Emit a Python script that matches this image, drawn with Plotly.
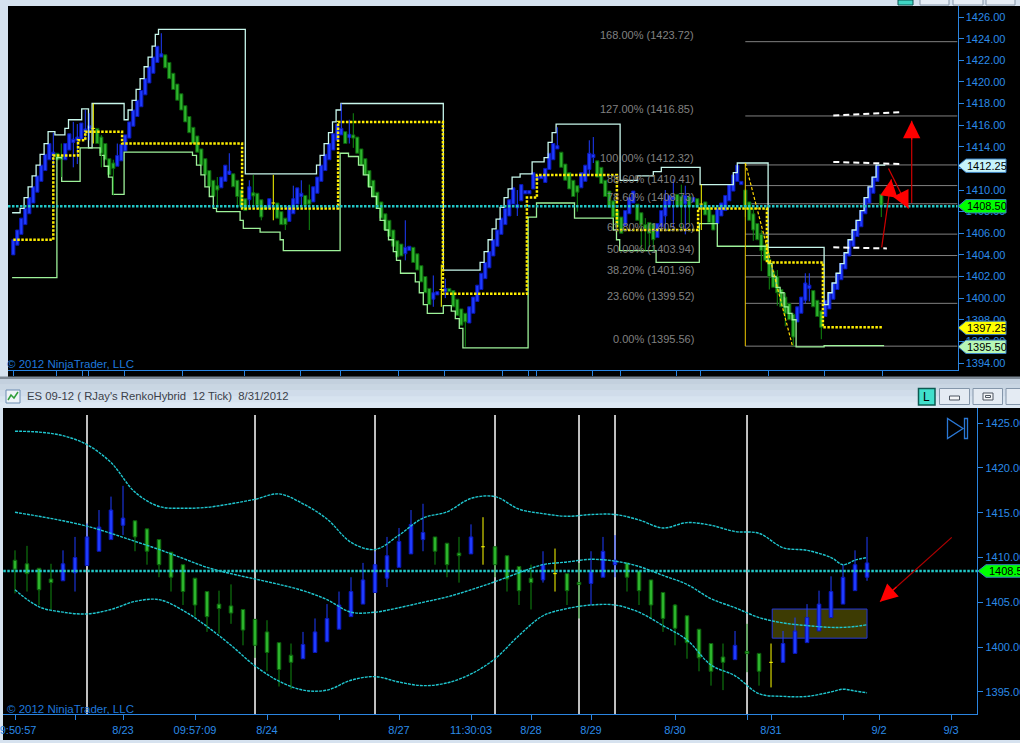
import plotly.graph_objects as go

W, H = 1020, 743

# ---------------- top panel: renko-hybrid bricks (bar index = position) ----------------
renko_open = [
    1404.0, 1404.9, 1405.9, 1406.8, 1407.8, 1408.8, 1409.8, 1410.8, 1411.8, 1412.8,
    1413.2, 1413.4, 1413.1, 1412.8, 1413.7, 1414.4, 1414.6, 1414.7, 1415.4, 1415.7,
    1415.7, 1415.7, 1414.9, 1414.3, 1412.9, 1412.5, 1412.2, 1412.7, 1413.6, 1414.8,
    1415.9, 1416.8, 1417.7, 1418.8, 1419.9, 1420.8, 1421.8, 1422.3, 1422.5, 1421.8,
    1420.8, 1419.8, 1418.9, 1417.8, 1416.8, 1415.8, 1415.0, 1413.8, 1412.9, 1411.8,
    1410.9, 1410.4, 1410.2, 1410.8, 1411.5, 1411.5, 1410.9, 1410.0, 1409.2, 1409.1,
    1409.7, 1409.7, 1409.1, 1408.5, 1408.3, 1408.8, 1408.8, 1408.0, 1407.4, 1407.1,
    1407.8, 1408.7, 1409.4, 1409.5, 1409.1, 1408.9, 1409.7, 1410.8, 1411.8, 1412.8,
    1413.7, 1414.6, 1415.1, 1415.4, 1414.9, 1415.1, 1414.9, 1413.8, 1412.9, 1411.8,
    1410.9, 1409.8, 1408.9, 1407.8, 1407.2, 1406.3, 1405.3, 1405.0, 1404.1, 1404.4,
    1404.7, 1404.1, 1403.0, 1402.0, 1400.9, 1399.9, 1400.3, 1400.8, 1400.6, 1400.9,
    1400.7, 1399.9, 1399.0, 1398.6, 1397.7, 1398.6, 1399.7, 1400.8, 1401.8, 1402.8,
    1403.9, 1404.8, 1405.9, 1406.8, 1407.6, 1408.7, 1408.4, 1409.0, 1409.7, 1409.7,
    1410.1, 1411.0, 1411.1, 1410.7, 1411.9, 1412.8, 1413.8, 1413.5, 1412.4, 1411.6,
    1410.9, 1410.4, 1410.2, 1410.8, 1411.9, 1413.0, 1412.7, 1412.1, 1410.9, 1409.9,
    1409.0, 1408.1, 1407.5, 1406.7, 1407.8, 1408.8, 1408.7, 1407.9, 1406.8, 1407.0,
    1406.9, 1405.6, 1406.6, 1407.6, 1408.6, 1409.1, 1409.6, 1409.4, 1408.7, 1409.4,
    1408.9, 1409.2, 1408.7, 1408.9, 1408.4, 1407.7, 1406.9, 1407.6, 1408.1, 1409.0,
    1409.9, 1410.8, 1410.5, 1410.0, 1408.9, 1407.8, 1406.9, 1405.9, 1404.9, 1403.6,
    1402.5, 1402.0, 1400.8, 1400.1, 1399.5, 1398.5, 1397.8, 1398.6, 1399.8, 1400.9,
    1400.7, 1399.8, 1398.8, 1398.3, 1399.0, 1399.9, 1400.8, 1401.7, 1402.7, 1403.9,
    1404.8, 1405.7, 1406.6, 1407.8, 1408.8, 1409.7, 1410.8, 1409.6,
]
renko_close = [
    1405.4, 1406.3, 1407.4, 1408.3, 1409.3, 1410.3, 1411.3, 1412.3, 1413.3, 1414.3,
    1413.5, 1412.8, 1412.9, 1414.3, 1415.2, 1414.7, 1414.9, 1416.2, 1415.6, 1415.9,
    1415.7, 1414.3, 1413.4, 1412.8, 1411.4, 1412.0, 1413.2, 1414.2, 1415.1, 1416.3,
    1417.4, 1418.3, 1419.2, 1420.3, 1421.4, 1422.3, 1423.3, 1422.6, 1421.3, 1420.3,
    1419.3, 1418.3, 1417.4, 1416.3, 1415.3, 1414.3, 1413.5, 1412.3, 1411.4, 1410.3,
    1409.4, 1410.0, 1411.2, 1412.3, 1411.7, 1410.3, 1409.4, 1408.5, 1408.1, 1410.3,
    1409.5, 1408.6, 1407.5, 1408.2, 1409.2, 1408.8, 1407.4, 1406.8, 1406.8, 1408.5,
    1409.2, 1410.2, 1409.7, 1408.6, 1408.7, 1410.3, 1411.2, 1412.3, 1413.3, 1414.3,
    1415.2, 1416.1, 1415.7, 1414.3, 1415.1, 1414.8, 1413.4, 1412.3, 1411.4, 1410.3,
    1409.4, 1408.3, 1407.4, 1406.3, 1405.7, 1404.8, 1403.8, 1403.9, 1404.7, 1404.8,
    1403.3, 1402.6, 1401.5, 1400.5, 1399.4, 1400.5, 1400.6, 1400.8, 1400.9, 1400.6,
    1399.2, 1398.4, 1397.5, 1397.8, 1399.2, 1400.1, 1401.2, 1402.3, 1403.3, 1404.3,
    1405.4, 1406.3, 1407.4, 1408.3, 1409.1, 1410.2, 1408.6, 1410.5, 1409.9, 1409.9,
    1411.6, 1411.2, 1411.3, 1412.0, 1413.4, 1414.3, 1414.1, 1412.1, 1410.9, 1410.1,
    1409.4, 1409.8, 1411.6, 1412.3, 1413.4, 1413.3, 1411.2, 1410.6, 1409.4, 1408.4,
    1407.5, 1406.6, 1406.0, 1408.1, 1409.3, 1409.9, 1407.2, 1406.8, 1406.4, 1406.0,
    1405.4, 1406.9, 1408.1, 1409.1, 1409.5, 1409.4, 1408.5, 1408.5, 1409.5, 1408.5,
    1409.3, 1408.4, 1408.7, 1407.7, 1407.0, 1406.3, 1408.3, 1408.8, 1409.5, 1410.5,
    1411.4, 1412.3, 1410.8, 1408.4, 1407.2, 1406.3, 1405.4, 1404.4, 1403.5, 1402.0,
    1401.0, 1400.5, 1399.2, 1398.6, 1398.0, 1396.4, 1399.2, 1400.1, 1401.4, 1401.2,
    1399.2, 1398.3, 1397.3, 1399.8, 1400.5, 1401.4, 1402.3, 1403.2, 1404.2, 1405.4,
    1406.3, 1407.2, 1408.1, 1409.3, 1410.3, 1411.2, 1412.3, 1408.6,
]
wick_i = [10, 12, 15, 16, 18, 19, 20, 22, 25, 26, 37, 51, 54, 56, 59, 60, 62, 65, 68, 70,
          72, 74, 82, 84, 85, 98, 105, 107, 108, 113, 126, 136, 141, 144, 145, 157, 158, 159,
          160, 163, 165, 167, 168, 169, 172, 183, 185, 187, 189, 191, 193, 195, 198, 199, 202, 217]
wick_lo = [1412.1, 1411.2, 1412.1, 1412.4, 1414.6, 1414.6, 1414.3, 1412.1, 1409.5, 1412.2, 1422.3,
           1408.3, 1411.4, 1408.3, 1408.3, 1408.6, 1407.2, 1407.2, 1406.3, 1407.8, 1408.4, 1406.3,
           1415.1, 1414.3, 1413.9, 1403.5, 1399.2, 1399.2, 1400.0, 1395.5, 1407.6, 1413.8, 1408.0,
           1411.4, 1412.5, 1404.4, 1404.4, 1404.7, 1404.4, 1406.3, 1406.3, 1406.3, 1405.9, 1406.9,
           1406.3, 1407.5, 1405.3, 1402.5, 1400.8, 1399.3, 1397.4, 1395.5, 1399.5, 1399.7, 1396.2,
           1407.5]
wick_hi = [1415.3, 1414.3, 1416.3, 1416.1, 1417.4, 1417.1, 1418.0, 1415.1, 1412.8, 1414.3, 1424.5,
           1411.2, 1413.4, 1410.9, 1410.9, 1411.4, 1409.1, 1411.4, 1407.4, 1410.4, 1410.9, 1410.5,
           1418.0, 1416.5, 1417.1, 1407.2, 1402.1, 1403.1, 1401.8, 1398.6, 1410.0, 1415.8, 1410.4,
           1414.6, 1414.9, 1407.9, 1407.4, 1407.0, 1406.9, 1410.0, 1411.0, 1410.5, 1410.4, 1409.4,
           1410.5, 1410.0, 1408.3, 1406.3, 1404.2, 1402.6, 1400.5, 1398.6, 1402.3, 1402.3, 1398.9,
           1409.5]

# box envelope lines (step vertices: bar position, level held until the next vertex)
env_hi_x = [-0.3, 1.7, 2.7, 3.7, 4.7, 5.7, 6.7, 7.7, 8.7, 10.4, 12.9, 13.8, 17.1, 18.8, 19.7,
            27.7, 28.7, 29.7, 30.7, 31.7, 32.7, 33.7, 34.7, 35.5, 36.3, 58.0, 75.8, 76.7, 77.7,
            78.8, 79.8, 80.7, 81.9, 107.5, 116.7, 117.7, 118.7, 119.7, 120.7, 121.7, 122.7, 123.7,
            124.7, 126.7, 129.7, 132.7, 133.7, 134.7, 135.7, 151.7, 156.0, 160.0, 162.0, 171.7,
            180.0, 181.0, 188.7, 202.7, 203.7, 204.7, 205.7, 206.7, 207.7, 208.7, 209.7, 210.7,
            211.7, 212.7, 213.7, 214.7, 215.7, 218.0]
env_hi_p = [1407.9, 1408.3, 1409.3, 1410.3, 1411.3, 1412.3, 1413.3, 1414.3, 1415.4, 1415.1,
            1415.7, 1416.5, 1417.5, 1413.9, 1418.0, 1416.5, 1417.4, 1418.3, 1419.3, 1420.3,
            1421.4, 1422.3, 1423.3, 1424.4, 1424.85, 1411.5, 1412.3, 1413.2, 1414.3, 1415.3,
            1416.3, 1417.4, 1418.0, 1402.6, 1403.3, 1404.3, 1405.4, 1406.4, 1407.3, 1408.4,
            1409.3, 1410.1, 1411.2, 1411.5, 1412.6, 1413.0, 1414.4, 1415.3, 1416.1, 1410.9,
            1411.3, 1411.7, 1412.1, 1410.5, 1411.6, 1412.5, 1404.7, 1399.4, 1400.5, 1401.4,
            1402.3, 1403.2, 1404.2, 1405.4, 1406.3, 1407.2, 1408.1, 1409.3, 1410.3, 1411.2,
            1412.3, 1412.3]
env_lo_x = [-0.3, 10.9, 12.1, 16.7, 21.7, 22.7, 23.8, 24.8, 27.7, 44.8, 45.8, 46.9, 47.9, 49.0,
            50.0, 50.8, 56.7, 57.5, 61.7, 66.7, 67.5, 81.7, 83.8, 86.3, 87.5, 88.8, 89.6, 90.8,
            91.7, 92.9, 93.8, 95.0, 95.8, 96.8, 100.5, 101.5, 102.5, 103.5, 107.5, 109.5, 110.5,
            111.5, 112.4, 128.7, 130.8, 140.3, 150.0, 150.8, 151.6, 160.7, 171.5, 176.0, 188.7,
            189.7, 190.7, 191.7, 192.7, 193.7, 194.7, 195.7, 202.7, 217.7]
env_lo_p = [1401.9, 1413.0, 1410.8, 1413.9, 1413.2, 1412.2, 1411.2, 1409.6, 1413.5, 1413.2,
            1412.3, 1411.4, 1410.3, 1409.4, 1408.3, 1408.0, 1407.2, 1406.45, 1406.1, 1405.4,
            1404.4, 1413.4, 1413.1, 1412.3, 1411.4, 1410.3, 1409.4, 1408.3, 1407.2, 1406.3,
            1405.4, 1404.3, 1403.5, 1402.3, 1401.5, 1400.5, 1399.4, 1398.6, 1399.3, 1398.8,
            1398.1, 1397.2, 1395.4, 1407.5, 1408.8, 1407.4, 1406.3, 1405.4, 1404.4, 1403.3,
            1406.9, 1404.8, 1403.2, 1402.0, 1401.0, 1400.5, 1399.2, 1398.6, 1398.0, 1395.5,
            1395.6, 1395.6]

# yellow dotted trend steps
trend_x = [0, 10.0, 16.2, 18.0, 27.2, 57.2, 81.2, 107.4, 128.4, 130.9, 150.9, 171.2, 188.4, 202.4, 217.2]
trend_p = [1405.4, 1413.2, 1414.6, 1415.4, 1414.3, 1408.3, 1416.3, 1400.4, 1409.3, 1411.4, 1406.3,
           1408.3, 1403.3, 1397.3, 1397.3]

fib_pct = [168.0, 127.0, 100.0, 88.6, 78.6, 61.8, 50.0, 38.2, 23.6, 0.0]
fib_lvl = [1423.72, 1416.85, 1412.32, 1410.41, 1408.73, 1405.92, 1403.94, 1401.96, 1399.52, 1395.56]
fib_anchor = (183, 1412.5, 194.8, 1395.56)   # swing high bar/price -> swing low bar/price

last_price = 1408.50
top_tags = [1412.25, 1408.50, 1397.25, 1395.50]
top_tag_fill = ["#c6f4fb", "#00ff00", "#ffff00", "#b6f7b6"]

tgt_x0 = [205.0, 205.0, 205.0]
tgt_x1 = [222.4, 222.4, 218.4]
tgt_p0 = [1416.9, 1412.6, 1404.7]
tgt_p1 = [1417.2, 1412.4, 1404.6]

# red arrows: tail bar, tail price, tip bar, tip price
top_arrows = [(224.6, 1408.8, 224.6, 1416.4), (217.1, 1404.7, 219.5, 1411.0), (218.8, 1412.0, 223.8, 1408.3)]
top_xticks = [0, 10.9, 17.2, 18.9, 27.9, 42.2, 57.9, 71.9, 81.9, 96.2, 107.9, 122.2, 128.9, 130.9,
              144.9, 151.9, 165.9, 171.9, 188.9, 202.9, 217.2]

# ---------------- bottom panel: ES 09-12 candles ----------------
bar_open = [1409.7, 1409.3, 1408.8, 1407.6, 1407.4, 1408.3, 1409.1, 1410.7, 1412.0, 1413.6,
            1414.1, 1413.2, 1412.0, 1410.6, 1409.2, 1407.7, 1406.2, 1404.8, 1404.6, 1404.2,
            1403.1, 1401.7, 1400.5, 1399.1, 1398.7, 1399.4, 1400.6, 1402.0, 1403.4, 1404.8,
            1406.1, 1407.7, 1408.9, 1410.4, 1412.0, 1412.3, 1411.6, 1410.5, 1410.4, 1411.2,
            1411.2, 1410.2, 1409.0, 1407.7, 1407.5, 1408.2, 1408.2, 1407.2, 1407.1, 1407.8,
            1409.2, 1409.4, 1408.5, 1407.5, 1406.1, 1404.7, 1403.5, 1402.0, 1400.4, 1398.9,
            1398.6, 1399.5, 1399.3, 1398.3, 1398.3, 1399.3, 1400.5, 1401.8, 1403.3, 1404.8,
            1406.3, 1407.8]
bar_high = [1410.8, 1411.3, 1408.8, 1409.3, 1410.8, 1412.3, 1413.8, 1415.3, 1416.8, 1418.0,
            1414.1, 1413.2, 1412.0, 1410.6, 1409.2, 1407.7, 1406.2, 1406.3, 1407.0, 1404.2,
            1403.1, 1403.0, 1400.5, 1400.4, 1401.7, 1403.2, 1404.8, 1406.2, 1407.8, 1409.4,
            1410.7, 1412.3, 1413.3, 1415.3, 1416.0, 1412.3, 1411.6, 1412.3, 1413.7, 1414.5,
            1411.2, 1410.2, 1409.0, 1409.2, 1410.7, 1411.0, 1408.2, 1409.4, 1410.7, 1412.3,
            1412.5, 1409.4, 1408.5, 1407.5, 1406.1, 1404.8, 1403.5, 1402.0, 1400.4, 1400.4,
            1401.8, 1402.6, 1399.3, 1400.4, 1401.8, 1403.3, 1404.8, 1406.3, 1407.9, 1409.2,
            1410.8, 1412.3]
bar_low = [1406.0, 1406.2, 1404.7, 1404.2, 1407.4, 1406.2, 1409.1, 1410.7, 1412.0, 1412.5,
           1410.7, 1409.2, 1407.8, 1406.2, 1404.7, 1403.4, 1401.7, 1401.5, 1402.6, 1400.2,
           1398.8, 1397.3, 1395.6, 1395.3, 1398.7, 1399.4, 1400.6, 1402.0, 1403.4, 1404.8,
           1406.1, 1406.7, 1408.9, 1410.4, 1410.7, 1409.2, 1407.8, 1407.2, 1410.4, 1409.2,
           1407.8, 1406.2, 1404.7, 1404.2, 1407.2, 1406.2, 1404.7, 1403.2, 1404.7, 1407.8,
           1407.8, 1406.2, 1404.7, 1403.2, 1401.7, 1400.2, 1398.7, 1397.3, 1395.7, 1395.2,
           1398.6, 1397.2, 1395.7, 1395.5, 1398.3, 1399.3, 1400.5, 1401.8, 1403.3, 1404.8,
           1406.3, 1407.4]
bar_close = [1408.7, 1408.2, 1406.4, 1407.2, 1409.3, 1410.0, 1412.3, 1413.4, 1415.3, 1414.4,
             1412.3, 1410.7, 1409.2, 1407.8, 1406.2, 1404.7, 1403.4, 1404.3, 1403.8, 1401.9,
             1400.2, 1399.4, 1397.5, 1398.3, 1400.3, 1401.7, 1403.2, 1404.7, 1406.2, 1407.5,
             1409.2, 1410.2, 1411.8, 1413.7, 1412.8, 1410.7, 1409.2, 1410.2, 1412.3, 1411.2,
             1409.2, 1407.6, 1406.3, 1407.2, 1409.2, 1408.2, 1406.3, 1407.0, 1408.5, 1410.7,
             1409.7, 1407.8, 1406.3, 1404.7, 1403.2, 1402.1, 1400.5, 1398.8, 1397.3, 1398.3,
             1400.2, 1399.3, 1397.3, 1398.3, 1400.4, 1401.8, 1403.3, 1404.8, 1406.2, 1407.8,
             1409.2, 1409.4]

band_j = [0, 2, 4, 6, 8, 10, 12, 14, 16, 18, 20, 22, 24, 26, 28, 30, 32, 34, 36, 38,
          40, 42, 44, 46, 48, 50, 52, 54, 56, 58, 60, 62, 64, 66, 68, 69, 70, 71]
band_up = [1424.1, 1424.0, 1423.6, 1422.6, 1420.6, 1417.3, 1415.7, 1415.5, 1415.6, 1416.0,
           1416.5, 1417.1, 1416.0, 1414.3, 1411.7, 1410.9, 1412.5, 1414.4, 1415.1, 1416.6,
           1416.8, 1415.4, 1414.9, 1414.6, 1414.8, 1414.8, 1414.2, 1413.3, 1413.9, 1413.6,
           1412.9, 1412.7, 1411.1, 1410.8, 1410.0, 1409.2, 1409.7, 1410.0]
band_mid = [1415.05, 1414.6, 1414.1, 1413.5, 1412.7, 1411.8, 1410.9, 1409.9, 1408.9, 1408.2,
            1407.6, 1407.0, 1406.3, 1405.3, 1403.9, 1403.9, 1404.4, 1405.0, 1405.6, 1406.4,
            1407.3, 1408.3, 1409.2, 1409.5, 1409.8, 1409.6, 1409.0, 1408.0, 1407.0, 1405.4,
            1404.4, 1403.3, 1402.7, 1402.4, 1402.2, 1402.2, 1402.3, 1402.5]
band_lo = [1406.4, 1404.5, 1403.9, 1403.7, 1404.2, 1405.1, 1405.3, 1404.1, 1402.3, 1400.2,
           1397.9, 1396.2, 1395.2, 1395.2, 1396.3, 1396.7, 1396.1, 1395.7, 1396.0, 1397.0,
           1398.7, 1401.3, 1403.5, 1404.3, 1404.7, 1404.7, 1403.9, 1402.4, 1400.8, 1398.0,
           1396.8, 1394.8, 1394.5, 1394.5, 1395.0, 1395.3, 1395.1, 1394.9]

session_j = [6, 20, 30, 40, 47, 50, 61]
zone = (63.1, 1401.0, 71.0, 1404.25)
bot_arrow = (78.06, 1412.25, 72.08, 1405.07)
bot_xticks = [0, 5, 9, 15, 21, 27, 32, 38, 43, 48, 55, 61, 63, 69, 72, 78]
bot_xtext = ["09:50:57", "", "8/23", "09:57:09", "8/24", "", "8/27", "11:30:03", "8/28",
             "8/29", "8/30", "", "8/31", "", "9/2", "9/3"]

# ---------------- styling ----------------
AX = "#2a84e0"
TXT = "#2b8be8"
FONT = "Liberation Sans, Arial, sans-serif"
UP_FILL, UP_EDGE = "#1f3cff", "#0a16b8"
DN_FILL, DN_EDGE = "#2db52d", "#0b600b"
DOJI = "#ffff00"
CYAN_DOT = "#22c8c8"


def px(x):
    return x / W


def py(y):
    return 1 - y / H


def bodies(xs, opens, closes, width, min_h, xa, ya):
    out = []
    for is_up, fill, edge in ((True, UP_FILL, UP_EDGE), (False, DN_FILL, DN_EDGE)):
        bx, bb, bh = [], [], []
        for x, o, c in zip(xs, opens, closes):
            if o == c or (c > o) != is_up:
                continue
            lo, hi = min(o, c), max(o, c)
            if hi - lo < min_h:
                mid = (lo + hi) / 2
                lo, hi = mid - min_h / 2, mid + min_h / 2
            bx.append(x)
            bb.append(lo)
            bh.append(hi - lo)
        out.append(go.Bar(x=bx, y=bh, base=bb, width=width, xaxis=xa, yaxis=ya,
                          marker=dict(color=fill, line=dict(color=edge, width=1)),
                          hoverinfo="skip"))
    return out


def wicks(xs, lows, highs, opens, closes, tick, xa, ya):
    segs = {"up": ([], []), "dn": ([], []), "doji": ([], [])}
    for x, l, h, o, c in zip(xs, lows, highs, opens, closes):
        if o == c:
            sx, sy = segs["doji"]
            sx += [x, x, None, x - tick, x + tick, None]
            sy += [l, h, None, o, o, None]
            continue
        sx, sy = segs["up" if c > o else "dn"]
        b0, b1 = min(o, c), max(o, c)
        if l < b0:
            sx += [x, x, None]
            sy += [l, b0, None]
        if h > b1:
            sx += [x, x, None]
            sy += [b1, h, None]
    colors = {"up": UP_FILL, "dn": "#118a11", "doji": DOJI}
    return [go.Scatter(x=segs[k][0], y=segs[k][1], mode="lines", xaxis=xa, yaxis=ya,
                       line=dict(color=colors[k], width=1), hoverinfo="skip")
            for k in segs]


fig = go.Figure()

# --- top panel traces
fig.add_trace(go.Scatter(x=env_hi_x, y=env_hi_p, mode="lines", line=dict(color="#c8f7ec", width=1.3, shape="hv"),
                         xaxis="x", yaxis="y", hoverinfo="skip"))
fig.add_trace(go.Scatter(x=env_lo_x, y=env_lo_p, mode="lines", line=dict(color="#9ef29a", width=1.3, shape="hv"),
                         xaxis="x", yaxis="y", hoverinfo="skip"))
n_top = len(renko_close)
top_x = list(range(n_top))
for t in bodies(top_x, renko_open, renko_close, 0.8, 0.3, "x", "y"):
    fig.add_trace(t)
for t in wicks(wick_i, wick_lo, wick_hi, [renko_open[i] for i in wick_i], [renko_close[i] for i in wick_i],
               0.45, "x", "y"):
    fig.add_trace(t)
fa_x0, fa_p0, fa_x1, fa_p1 = fib_anchor
fig.add_trace(go.Scatter(x=[fa_x0, fa_x0], y=[fa_p0, fib_lvl[-1]], mode="lines",
                         line=dict(color="#f0c800", width=1), xaxis="x", yaxis="y", hoverinfo="skip"))
fig.add_trace(go.Scatter(x=[fa_x0, fa_x1], y=[fa_p0, fa_p1], mode="lines",
                         line=dict(color="#ffd800", width=1.2, dash="3px,2px"), xaxis="x", yaxis="y", hoverinfo="skip"))
fig.add_trace(go.Scatter(x=trend_x, y=trend_p, mode="lines",
                         line=dict(color="#ffee00", width=2.5, shape="hv", dash="2.5px,1.5px"),
                         xaxis="x", yaxis="y", hoverinfo="skip"))
for x0, x1, p0, p1 in zip(tgt_x0, tgt_x1, tgt_p0, tgt_p1):
    fig.add_trace(go.Scatter(x=[x0, x1], y=[p0, p1], mode="lines",
                             line=dict(color="#ffffff", width=2, dash="6px,4px"),
                             xaxis="x", yaxis="y", hoverinfo="skip"))

# --- bottom panel traces
n_bot = len(bar_close)
bot_x = list(range(n_bot))
for t in bodies(bot_x, bar_open, bar_close, 0.3, 0.25, "x2", "y2"):
    fig.add_trace(t)
for t in wicks(bot_x, bar_low, bar_high, bar_open, bar_close, 0.15, "x2", "y2"):
    fig.add_trace(t)
for band in (band_up, band_mid, band_lo):
    fig.add_trace(go.Scatter(x=band_j, y=band, mode="lines",
                             line=dict(color="#1fc6cf", width=1.4, shape="spline", dash="3px,1px"),
                             xaxis="x2", yaxis="y2", hoverinfo="skip"))

# ---------------- shapes ----------------
shapes = []


def rect(x0, y0, x1, y1, fill, edge=None, lw=0, layer="below"):
    shapes.append(dict(type="rect", xref="paper", yref="paper", x0=px(x0), x1=px(x1),
                       y0=py(y1), y1=py(y0), fillcolor=fill,
                       line=dict(color=edge or fill, width=lw), layer=layer))


# window chrome
rect(8, 6, 1020, 377, "#000000")
rect(3, 408, 1020, 740, "#000000")
rect(0, 376.5, 1020, 379, "#7d8894")
for k, col in enumerate(["#c3d0de", "#c9d6e3", "#d0dcea", "#d7e3ef", "#dde8f3"]):
    rect(0, 379 + k * 5.8, 1020, 379 + (k + 1) * 5.8, col)
rect(898, 0, 913, 5, "#3fd6c4", "#0d5450", 1, "above")
for bx0, bx1 in ((920, 949), (953, 983), (986, 1015)):
    rect(bx0, -2, bx1, 5, "#e6edf5", "#8797aa", 1, "above")
rect(6, 390, 20, 403, "#eef3f8", "#6d8db3", 1, "above")
shapes.append(dict(type="path", xref="paper", yref="paper", layer="above",
                   path="M %f,%f L %f,%f L %f,%f L %f,%f" % (px(8), py(400), px(11), py(395), px(14), py(398), px(18), py(392)),
                   line=dict(color="#2e9e3a", width=1.5)))
rect(918.5, 388.5, 935, 405, "#40e0cc", "#0d5a52", 1.5, "above")
for bx0, bx1 in ((939.5, 969.5), (973, 1002.5), (1006, 1036)):
    rect(bx0, 388.5, bx1, 404.5, "#e4ebf3", "#8496aa", 1, "above")
rect(949.5, 396, 959.5, 400, "#f4f6f8", "#4c5560", 1, "above")
rect(983, 393, 993, 400, "#f4f6f8", "#4c5560", 1, "above")
rect(985.5, 395.5, 990.5, 397.5, "#f4f6f8", "#4c5560", 1, "above")

# fib levels
for lvl in fib_lvl:
    shapes.append(dict(type="line", xref="x", yref="y", x0=fa_x0, x1=236.05, y0=lvl, y1=lvl,
                       line=dict(color="#808080", width=1), layer="below"))

# last price lines
for xr, yr in (("x domain", "y"), ("x2 domain", "y2")):
    shapes.append(dict(type="line", xref=xr, yref=yr, x0=0, x1=1, y0=last_price, y1=last_price,
                       line=dict(color=CYAN_DOT, width=2.5, dash="2.5px,1.5px"), layer="above"))

# session breaks
for j in session_j:
    shapes.append(dict(type="line", xref="x2", yref="y2 domain", x0=j, x1=j, y0=0, y1=0.977,
                       line=dict(color="#ffffff", width=1.5), layer="below"))

# highlighted zone
zx0, zp0, zx1, zp1 = zone
shapes.append(dict(type="rect", xref="x2", yref="y2", x0=zx0, x1=zx1, y0=zp0, y1=zp1,
                   fillcolor="#3d3b03", line=dict(color="#2335d8", width=1), layer="below"))

# red arrow shafts (dark red)
for tx, tp, hx, hp in top_arrows:
    shapes.append(dict(type="line", xref="x", yref="y", x0=tx, y0=tp, x1=hx, y1=hp,
                       line=dict(color="#d00000", width=1.2), layer="above"))
btx, btp, bhx, bhp = bot_arrow
shapes.append(dict(type="line", xref="x2", yref="y2", x0=btx, y0=btp, x1=bhx, y1=bhp,
                   line=dict(color="#b00000", width=1.2), layer="above"))

# price tags on axes


def tag(price, fill, yref, x_tip, x_sh, x_r, half):
    shapes.append(dict(type="path", xref="paper", yref=yref, layer="above",
                       path="M %f,%f L %f,%f L %f,%f L %f,%f L %f,%f Z" % (
                           px(x_tip), price, px(x_sh), price + half, px(x_r), price + half,
                           px(x_r), price - half, px(x_sh), price - half),
                       fillcolor=fill, line=dict(color="#3a7fc0", width=1)))


for p, f in zip(top_tags, top_tag_fill):
    tag(p, f, "y", 958, 966, 1006, 0.62)
tag(last_price, "#00ff00", "y2", 978, 986, 1032, 0.7)

# end-of-chart marker
shapes.append(dict(type="path", xref="paper", yref="paper", layer="above",
                   path="M %f,%f L %f,%f L %f,%f Z" % (px(947.5), py(418.5), px(947.5), py(438.5), px(963), py(428.5)),
                   line=dict(color="#2a78d6", width=1.3)))
rect(964.5, 418.5, 967.5, 438.5, "rgba(0,0,0,0)", "#2a78d6", 1.3, "above")

# ---------------- annotations ----------------
ann = []
for pct, lvl in zip(fib_pct, fib_lvl):
    ann.append(dict(xref="paper", yref="y", x=px(696), y=lvl, xanchor="right", yanchor="middle", yshift=7,
                    text="%.2f%% (%.2f)" % (pct, lvl), showarrow=False,
                    font=dict(family=FONT, size=11, color="#808080")))
for p in top_tags:
    ann.append(dict(xref="paper", yref="y", x=px(986.5), y=p, xanchor="center", yanchor="middle",
                    text="%.2f" % p, showarrow=False, font=dict(family=FONT, size=11, color="#000000")))
ann.append(dict(xref="paper", yref="y2", x=px(987), y=last_price, xanchor="left", yanchor="middle",
                text="%.2f" % last_price, showarrow=False, font=dict(family=FONT, size=11, color="#000000")))
for tx, tp, hx, hp in top_arrows:
    ann.append(dict(xref="x", yref="y", axref="x", ayref="y", x=hx, y=hp,
                    ax=hx + 0.25 * (tx - hx), ay=hp + 0.25 * (tp - hp), text="", showarrow=True,
                    arrowhead=2, arrowsize=2.9, arrowwidth=1.2, arrowcolor="#ff0000", standoff=0))
ann.append(dict(xref="x2", yref="y2", axref="x2", ayref="y2", x=bhx, y=bhp,
                ax=bhx + 0.25 * (btx - bhx), ay=bhp + 0.25 * (btp - bhp), text="", showarrow=True,
                arrowhead=2, arrowsize=2.9, arrowwidth=1.2, arrowcolor="#ff0000", standoff=0))
for yy in (363.5, 708.5):
    ann.append(dict(xref="paper", yref="paper", x=px(5), y=py(yy), xanchor="left", yanchor="middle",
                    text="© 2012 NinjaTrader, LLC", showarrow=False,
                    font=dict(family=FONT, size=11.5, color="#1f78dc")))
ann.append(dict(xref="paper", yref="paper", x=px(25), y=py(396), xanchor="left", yanchor="middle",
                text="ES 09-12 ( RJay's RenkoHybrid\u00a0 12 Tick)\u00a0 8/31/2012", showarrow=False,
                font=dict(family=FONT, size=11.3, color="#3b4049")))
ann.append(dict(xref="paper", yref="paper", x=px(926.75), y=py(396.5), xanchor="center", yanchor="middle",
                text="L", showarrow=False, font=dict(family=FONT, size=12, color="#000000")))

axis_common = dict(showgrid=False, zeroline=False, showline=True, linecolor=AX, linewidth=1,
                   ticks="outside", tickcolor=AX, ticklen=5, fixedrange=True, automargin=False,
                   tickfont=dict(family=FONT, size=11, color=TXT))

fig.update_layout(
    width=W, height=H, margin=dict(l=0, r=0, t=0, b=0, autoexpand=False), autosize=False,
    paper_bgcolor="#d6e2ef", plot_bgcolor="#000000",
    showlegend=False, barmode="overlay",
    xaxis=dict(domain=[px(8), px(957.5)], range=[-1.325, 236.05], anchor="y",
               tickvals=top_xticks, showticklabels=False, **axis_common),
    yaxis=dict(domain=[py(369.5), py(6)], range=[1393.40, 1427.02], anchor="x", side="right",
               tickvals=list(range(1394, 1427, 2)), tickformat=".2f", **axis_common),
    xaxis2=dict(domain=[px(3.3), px(977.3)], range=[-0.975, 80.19], anchor="y2",
                tickvals=bot_xticks, ticktext=bot_xtext, ticklabeloverflow="allow", **axis_common),
    yaxis2=dict(domain=[py(714.3), py(408)], range=[1392.50, 1426.69], anchor="x2", side="right",
                tickvals=list(range(1395, 1426, 5)), tickformat=".2f", ticklabeloverflow="allow",
                **axis_common),
    shapes=shapes, annotations=ann,
)

fig.write_html("out.html", config={"displayModeBar": False, "responsive": False},
               post_script="document.body.style.margin='0';document.body.style.overflow='hidden';")
